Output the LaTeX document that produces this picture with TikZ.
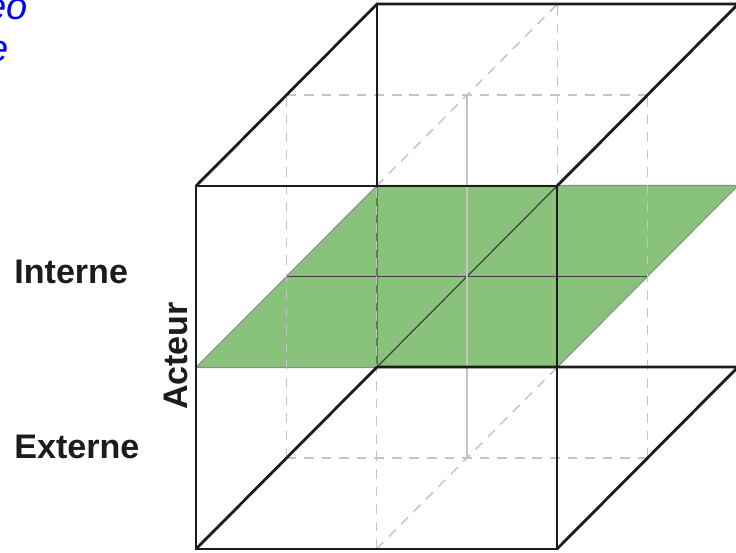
\documentclass[tikz,border=0pt]{standalone}
\usepackage{fontspec}
\setmainfont{Liberation Sans}
\usetikzlibrary{positioning}
\definecolor{planegreen}{RGB}{137,194,122}
\definecolor{inkblack}{RGB}{28,28,28}
\definecolor{hiddengray}{RGB}{196,196,196}
\definecolor{linkblue}{RGB}{0,0,255}

\begin{document}
\begin{tikzpicture}[x=0.02cm, y=-0.02cm,
    rim/.style={draw=inkblack, line width=1.6pt, line cap=round},
    hidden/.style={draw=hiddengray, line width=0.85pt, dash pattern=on 5.5pt off 4.5pt},
    core/.style={draw=hiddengray, line width=0.7pt},
    layer/.style={fill=planegreen, draw=black!45, line width=0.6pt},
    layerline/.style={draw=black!75, line width=0.7pt},
    behind/.style={draw=planegreen!65!black, line width=1.2pt},
    axislabel/.style={font=\fontsize{19.4}{23}\selectfont\bfseries, text=inkblack, inner sep=0pt},
    cutlabel/.style={font=\fontsize{21.6}{26}\selectfont\itshape, text=linkblue, inner sep=0pt}
]
\useasboundingbox (0,0) rectangle (736,553);
\clip (0,0) rectangle (736,553);

% lattice points p<x><y><z>
\foreach \i in {0,1,2}
  \foreach \j in {0,1,2}
    \foreach \k in {0,1,2}
      \coordinate (p\i\j\k) at ({196+180.5*\i+90.5*\k}, {549-181.5*\j-91*\k});

% green layer (Acteur = Interne / Externe)
\filldraw[layer] (p010) -- (p210) -- (p212) -- (p012) -- cycle;
\draw[behind] (p002) -- (p012);
\draw[layerline] (p011) -- (p211);
\draw[layerline] (p110) -- (p112);

% hidden subdivision lines
\draw[hidden] (p100) -- (p120);
\draw[hidden] (p102) -- (p122);
\draw[hidden] (p001) -- (p021);
\draw[hidden] (p201) -- (p221);
\draw[hidden] (p120) -- (p122);
\draw[hidden] (p021) -- (p221);
\draw[hidden] (p100) -- (p102);
\draw[hidden] (p001) -- (p201);
\draw[core] (p101) -- (p121);

% cube edges
\draw[rim] (p000) -- (p200) -- (p220) -- (p020) -- cycle;
\draw[rim] (p020) -- (p022) -- (p222) -- (p220);
\draw[rim] (p000) -- (p002) -- (p202) -- (p200);
\draw[rim] (p012) -- (p022);
\draw[rim] (p202) -- (p222);

% labels
\node[axislabel, anchor=west] (interne) at (14,272) {Interne};
\node[axislabel, anchor=west] (externe) at (14,447) {Externe};
\node[axislabel, rotate=90] (acteur) at (176,356) {Acteur};
\node[cutlabel, anchor=base east] (cut1) at (28,19.5) {eo};
\node[cutlabel, anchor=base east] (cut2) at (9,61.7) {e};

\end{tikzpicture}
\end{document}
